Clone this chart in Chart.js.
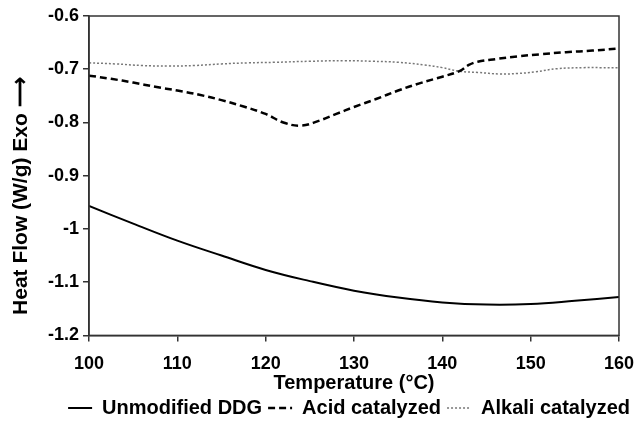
<!DOCTYPE html>
<html>
<head>
<meta charset="utf-8">
<script src="https://cdn.jsdelivr.net/npm/chart.js@4/dist/chart.umd.min.js"></script>
<style>
  html, body { margin: 0; padding: 0; background: #fff; }
  #wrap { width: 643px; height: 430px; }
</style>
</head>
<body>
<div id="wrap"><canvas id="chart" width="643" height="430"></canvas></div>
<script>
// values
const seriesNames = ['Unmodified DDG', 'Acid catalyzed', 'Alkali catalyzed'];

const tempUnmod = [100, 105, 110, 115, 120, 125, 130, 135, 140, 145, 150, 155, 160];
const heatUnmod = [-0.957, -0.99, -1.022, -1.05, -1.077, -1.098, -1.116, -1.129, -1.138, -1.142, -1.141, -1.135, -1.128];

const tempAcid = [100, 102.5, 105, 107.5, 110, 112.5, 115, 117.5, 120, 122, 124, 126, 128, 130, 132.5, 135, 137.5, 140, 142, 143, 144, 146, 148.5, 151, 154, 157, 160];
const heatAcid = [-0.712, -0.718, -0.725, -0.733, -0.74, -0.748, -0.758, -0.77, -0.784, -0.8, -0.806, -0.797, -0.784, -0.771, -0.756, -0.74, -0.726, -0.714, -0.703, -0.692, -0.686, -0.681, -0.676, -0.672, -0.668, -0.665, -0.661];

const tempAlkali = [100, 103, 106, 109, 112, 115, 118, 121, 125, 129, 132, 135, 138, 140, 142, 144, 146.5, 148.5, 150.5, 153, 156, 158, 160];
const heatAlkali = [-0.688, -0.69, -0.693, -0.694, -0.693, -0.69, -0.688, -0.687, -0.685, -0.684, -0.685, -0.687, -0.692, -0.697, -0.704, -0.706, -0.709, -0.708, -0.705, -0.699, -0.697, -0.697, -0.697];

const xTicks = [100, 110, 120, 130, 140, 150, 160];
const yTicks = [-0.6, -0.7, -0.8, -0.9, -1, -1.1, -1.2];

function toPoints(xs, ys) {
    return xs.map((x, i) => ({ x: x, y: ys[i] }));
}

const FONT = '"Liberation Sans", Arial, sans-serif';
const AXIS = '#333';

// box round the plot area
const frame = {
    id: 'frame',
    afterDraw(chart) {
        const a = chart.chartArea;
        const ctx = chart.ctx;
        ctx.save();
        ctx.strokeStyle = AXIS;
        ctx.lineWidth = 1.5;
        ctx.strokeRect(a.left, a.top, a.right - a.left, a.bottom - a.top);
        ctx.restore();
    }
};

new Chart(document.getElementById('chart'), {
    type: 'line',
    data: {
        datasets: [
            {
                label: seriesNames[0],
                data: toPoints(tempUnmod, heatUnmod),
                borderColor: '#000',
                borderWidth: 2,
                pointRadius: 0,
                tension: 0.4
            },
            {
                label: seriesNames[1],
                data: toPoints(tempAcid, heatAcid),
                borderColor: '#000',
                borderWidth: 2.5,
                borderDash: [7, 4],
                pointRadius: 0,
                tension: 0.4
            },
            {
                label: seriesNames[2],
                data: toPoints(tempAlkali, heatAlkali),
                borderColor: '#777',
                borderWidth: 1.5,
                borderDash: [2, 2],
                pointRadius: 0,
                tension: 0.4
            }
        ]
    },
    options: {
        responsive: false,
        animation: false,
        layout: { padding: { left: 0, right: 7, top: 16, bottom: 2 } },
        plugins: {
            tooltip: { enabled: false },
            legend: {
                position: 'bottom',
                align: 'end',
                labels: {
                    usePointStyle: true,
                    pointStyle: 'line',
                    pointStyleWidth: 24,
                    padding: 6,
                    color: '#000',
                    font: { family: FONT, size: 20, weight: 'bold' },
                    // point style drops the dash, so take it from the dataset
                    generateLabels: chart => {
                        const items = Chart.defaults.plugins.legend.labels.generateLabels(chart);
                        items.forEach(item => {
                            const ds = chart.data.datasets[item.datasetIndex];
                            item.lineDash = ds.borderDash || [];
                            item.lineWidth = ds.borderWidth;
                            item.strokeStyle = ds.borderColor;
                        });
                        return items;
                    }
                }
            }
        },
        scales: {
            x: {
                type: 'linear',
                min: 100,
                max: 160,
                afterBuildTicks: s => { s.ticks = xTicks.map(v => ({ value: v })); },
                // the "160" label overhang is covered by the right spacer axis
                afterFit: s => { s.paddingRight = 0; },
                grid: { drawOnChartArea: false, tickLength: 6, color: AXIS, lineWidth: 1.5 },
                border: { color: AXIS, width: 1.5 },
                ticks: {
                    color: '#000',
                    padding: 12,
                    font: { family: FONT, size: 18, weight: 'bold' }
                },
                title: {
                    display: true,
                    text: 'Temperature (°C)',
                    color: '#000',
                    padding: { top: -16, bottom: -3 },
                    font: { family: FONT, size: 20, weight: 'bold' }
                }
            },
            y: {
                min: -1.2,
                max: -0.6,
                afterBuildTicks: s => { s.ticks = yTicks.map(v => ({ value: v })); },
                afterFit: s => { s.width = 89; },
                grid: { drawOnChartArea: false, tickLength: 6, color: AXIS, lineWidth: 1.5 },
                border: { color: AXIS, width: 1.5 },
                ticks: {
                    color: '#000',
                    padding: 4,
                    callback: v => String(Number(v.toFixed(1))),
                    font: { family: FONT, size: 18, weight: 'bold' }
                },
                title: {
                    display: true,
                    text: 'Heat Flow (W/g) Exo \u27F6\u00a0\u00a0\u00a0\u00a0\u00a0\u00a0\u00a0',
                    color: '#000',
                    padding: { top: 9, bottom: 0 },
                    font: { family: FONT, size: 21, weight: 'bold' }
                }
            },
            // empty right axis, only keeps the plot edge at the right place
            yRight: {
                position: 'right',
                display: true,
                afterFit: s => { s.width = 17; },
                grid: { display: false },
                border: { display: false },
                ticks: { display: false }
            }
        }
    },
    plugins: [frame]
});
</script>
</body>
</html>
